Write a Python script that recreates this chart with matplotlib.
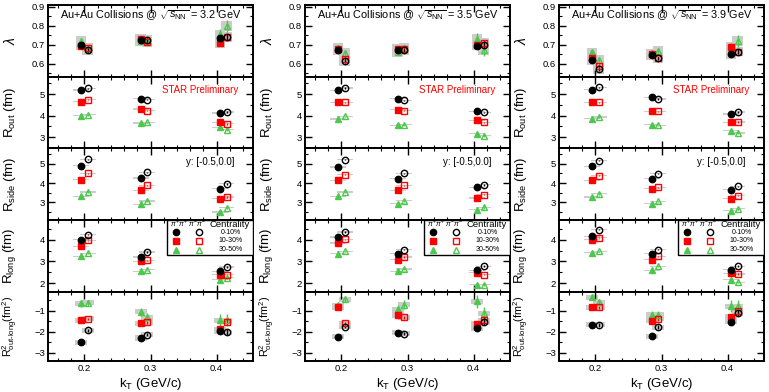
import numpy as np
import matplotlib
matplotlib.use('Agg')
import matplotlib.pyplot as plt
from matplotlib.ticker import MultipleLocator
from matplotlib.patches import Rectangle

# kT bin centres, pi+pi+ drawn a bit left, pi-pi- a bit right
kt = [0.2, 0.29, 0.41]
energies = ['3.2', '3.5', '3.9']
cents = ['0-10%', '10-30%', '30-50%']

# each block: rows = pp 0-10, pp 10-30, pp 30-50, mm 0-10, mm 10-30, mm 30-50
lam_32 = [[0.70, 0.725, 0.735], [0.696, 0.73, 0.71], [0.72, 0.72, 0.755],
          [0.673, 0.725, 0.74], [0.685, 0.715, 0.74], [0.68, 0.72, 0.80]]
lam_35 = [[0.67, 0.67, 0.696], [0.678, 0.678, 0.70], [0.682, 0.66, 0.73],
          [0.615, 0.67, 0.70], [0.624, 0.678, 0.71], [0.657, 0.682, 0.67]]
lam_39 = [[0.619, 0.646, 0.651], [0.63, 0.651, 0.69], [0.66, 0.655, 0.682],
          [0.57, 0.628, 0.664], [0.588, 0.63, 0.664], [0.62, 0.666, 0.72]]

rout_32 = [[5.20, 4.79, 4.12], [4.66, 4.31, 3.69], [4.00, 3.66, 3.46],
           [5.28, 4.74, 4.17], [4.74, 4.23, 3.63], [4.05, 3.69, 3.35]]
rout_35 = [[5.18, 4.79, 4.20], [4.62, 4.28, 3.78], [3.85, 3.55, 3.16],
           [5.29, 4.71, 4.15], [4.63, 4.23, 3.69], [3.97, 3.58, 3.08]]
rout_39 = [[5.21, 4.85, 4.08], [4.62, 4.20, 3.69], [3.86, 3.58, 3.30],
           [5.32, 4.78, 4.17], [4.62, 4.20, 3.71], [3.94, 3.55, 3.20]]

rside_32 = [[4.90, 4.26, 3.71], [4.17, 3.62, 3.19], [3.31, 2.90, 2.51],
            [5.23, 4.56, 3.96], [4.51, 3.88, 3.28], [3.54, 3.08, 2.73]]
rside_35 = [[4.82, 4.22, 3.79], [4.14, 3.62, 3.23], [3.31, 2.94, 2.63],
            [5.19, 4.51, 3.91], [4.43, 3.88, 3.40], [3.54, 3.09, 2.75]]
rside_39 = [[4.85, 4.22, 3.66], [4.14, 3.71, 3.19], [3.28, 2.94, 2.58],
            [5.14, 4.48, 3.83], [4.37, 3.79, 3.35], [3.45, 3.06, 2.68]]

rlong_32 = [[4.00, 3.20, 2.55], [3.70, 3.00, 2.40], [3.24, 2.54, 2.17],
            [4.23, 3.43, 2.74], [3.97, 3.05, 2.40], [3.38, 2.63, 2.25]]
rlong_35 = [[4.12, 3.35, 2.59], [3.84, 3.08, 2.48], [3.35, 2.55, 1.94],
            [4.35, 3.54, 2.78], [4.01, 3.20, 2.40], [3.46, 2.66, 1.94]]
rlong_39 = [[4.15, 3.35, 2.62], [4.00, 3.08, 2.46], [3.40, 2.59, 2.16],
            [4.46, 3.54, 2.78], [4.09, 3.23, 2.43], [3.46, 2.78, 2.05]]

rol_32 = [[-2.50, -2.30, -1.98], [-1.44, -1.59, -1.87], [-0.65, -1.05, -1.44],
          [-1.94, -2.14, -2.03], [-1.39, -1.55, -1.52], [-0.62, -1.31, -1.44]]
rol_35 = [[-2.25, -2.06, -1.83], [-0.84, -1.20, -1.62], [-0.73, -0.92, -0.55],
          [-1.75, -2.09, -1.55], [-1.59, -1.31, -1.44], [-0.45, -0.70, -1.12]]
rol_39 = [[-1.67, -2.22, -1.52], [-0.84, -1.47, -1.28], [-0.34, -1.20, -0.78],
          [-1.67, -1.78, -1.12], [-0.84, -1.39, -1.00], [-0.58, -1.20, -0.78]]

# statistical errors per centrality (same for both charges)
lam_err = [[0.01, 0.01, 0.015], [0.01, 0.01, 0.015], [0.01, 0.015, 0.03]]
r_err = [[0.03, 0.03, 0.04], [0.03, 0.03, 0.04], [0.04, 0.04, 0.06]]
rol_err = [[0.08, 0.08, 0.15], [0.06, 0.08, 0.15], [0.15, 0.2, 0.3]]

# systematic half heights per row
sys_lam = 0.025
sys_r = 0.03
sys_rol = 0.12

rows = [
    ('lam', r'$\lambda$', (0.53, 0.91), 0.1, 0.05, [lam_32, lam_35, lam_39], lam_err, sys_lam, 0.008),
    ('rout', r'R$_{\rm out}$ (fm)', (2.5, 5.8), 1, 0.5, [rout_32, rout_35, rout_39], r_err, sys_r, 0.012),
    ('rside', r'R$_{\rm side}$ (fm)', (2.1, 5.8), 1, 0.5, [rside_32, rside_35, rside_39], r_err, sys_r, 0.012),
    ('rlong', r'R$_{\rm long}$ (fm)', (1.6, 4.9), 1, 0.5, [rlong_32, rlong_35, rlong_39], r_err, sys_r, 0.012),
    ('rol', r'R$^{2}_{\rm out\text{-}long}$(fm$^{2}$)', (-3.4, -0.1), 1, 0.5, [rol_32, rol_35, rol_39], rol_err, sys_rol, 0.009),
]

colors = ['black', '#ff0000', '#4cc84c']
markers = ['o', 's', '^']
msize = [4.6, 4.6, 4.6]

plt.rcParams['font.family'] = ['Liberation Sans', 'DejaVu Sans']
plt.rcParams['mathtext.fontset'] = 'custom'
plt.rcParams['mathtext.rm'] = 'Liberation Sans'
plt.rcParams['mathtext.it'] = 'Liberation Sans:italic'

W, H = 769, 392
fig = plt.figure(figsize=(W / 100, H / 100), dpi=100)
col_left = [48, 305, 559]
col_w = 205
row_px = [5, 77, 148, 220, 292, 361]
ylab_size = [10, 9.5, 9.5, 9.5, 7.8]
ylab_x = [-0.145, -0.145, -0.145, -0.145, -0.135]

for c in range(3):
    for r, (key, ylab, ylim, major, minor, blocks, errs, sysh, sysw) in enumerate(rows):
        top, bot = row_px[r], row_px[r + 1]
        ax = fig.add_axes([col_left[c] / W, (H - bot) / H, col_w / W, (bot - top) / H])
        data = blocks[c]
        for i in range(6):
            cen = i % 3
            off = -0.005 if i < 3 else 0.005
            xs = [k + off for k in kt]
            ys = data[i]
            for x, y in zip(xs, ys):
                ax.add_patch(Rectangle((x - sysw, y - sysh), 2 * sysw, 2 * sysh,
                                       facecolor='#cccccc', edgecolor='none', zorder=1))
            face = colors[cen] if i < 3 else 'none'
            ax.errorbar(xs, ys, yerr=errs[cen], fmt=markers[cen], color=colors[cen],
                        mfc=face, mec=colors[cen], ms=msize[cen], mew=1.0,
                        elinewidth=1.0, capsize=0, zorder=3 + (3 - cen) * 0.1)
        ax.set_xlim(0.145, 0.455)
        ax.set_ylim(*ylim)
        ax.xaxis.set_major_locator(MultipleLocator(0.1))
        ax.xaxis.set_minor_locator(MultipleLocator(0.02))
        ax.yaxis.set_major_locator(MultipleLocator(major))
        ax.yaxis.set_minor_locator(MultipleLocator(minor))
        ax.tick_params(which='both', direction='in', top=True, right=True, labelsize=6.8, pad=2)
        ax.tick_params(which='major', length=5, width=1)
        ax.tick_params(which='minor', length=2.5, width=0.8)
        for s in ax.spines.values():
            s.set_linewidth(1.4)
        if r < 4:
            ax.tick_params(labelbottom=False)
        else:
            ax.set_xlabel(r'k$_{\rm T}$ (GeV/c)', fontsize=9.5, labelpad=2)
        ax.set_ylabel(ylab, fontsize=ylab_size[r])
        ax.yaxis.set_label_coords(ylab_x[r], 0.5)
        if key == 'lam':
            ax.yaxis.set_major_formatter(plt.FormatStrFormatter('%.1f'))
            ax.text(0.5, 0.86, r'Au+Au Collisions @ $\sqrt{s_{\rm NN}}$ = ' + energies[c] + ' GeV',
                    transform=ax.transAxes, ha='center', va='center', fontsize=7.8)
        if key == 'rol':
            ax.set_yticks([-3, -2, -1])
            ax.set_yticklabels(['\u22123', '\u22122', '\u22121'])
        if key == 'rout':
            ax.text(0.93, 0.82, 'STAR Preliminary', color='#ff0000', transform=ax.transAxes,
                    ha='right', va='center', fontsize=7)
        if key == 'rside':
            ax.text(0.91, 0.81, 'y: [-0.5,0.0]', transform=ax.transAxes,
                    ha='right', va='center', fontsize=7)
        if key == 'rlong':
            ax.add_patch(Rectangle((0.58, 0.51), 0.42, 0.49, transform=ax.transAxes,
                                   facecolor='white', edgecolor='black', lw=1.0, zorder=5))
            ax.text(0.595, 0.94, r'$\pi^{+}\pi^{+}$ $\pi^{-}\pi^{-}$', transform=ax.transAxes,
                    ha='left', va='center', fontsize=5, zorder=6)
            ax.text(0.985, 0.94, 'Centrality', transform=ax.transAxes,
                    ha='right', va='center', fontsize=6.8, zorder=6)
            for j, lab in enumerate(cents):
                yy = 0.83 - j * 0.12
                ax.plot([0.625], [yy], markers[j], color=colors[j], ms=4.5, transform=ax.transAxes,
                        zorder=6, clip_on=False)
                ax.plot([0.735], [yy], markers[j], color=colors[j], mfc='none', ms=4.5, mew=1,
                        transform=ax.transAxes, zorder=6, clip_on=False)
                ax.text(0.89, yy, lab, transform=ax.transAxes, ha='center', va='center',
                        fontsize=5, zorder=6)

fig.savefig('out.png', dpi=100)
